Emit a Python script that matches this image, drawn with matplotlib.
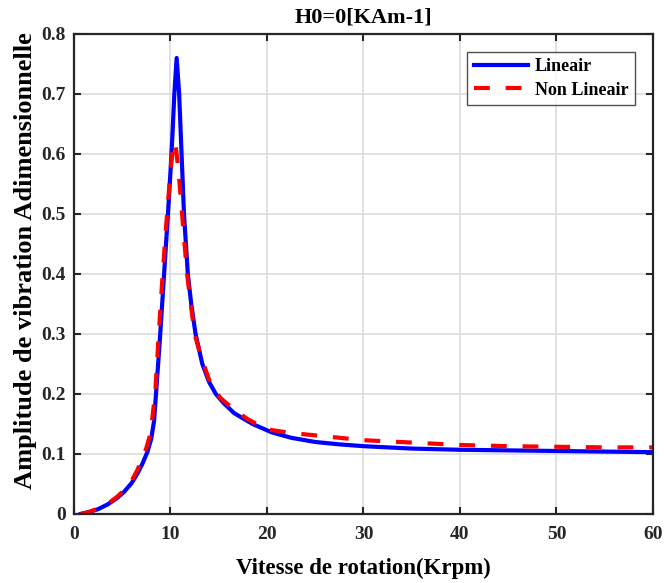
import matplotlib
matplotlib.use("Agg")
import matplotlib.pyplot as plt

# Rotation speed (Krpm) and dimensionless vibration amplitude
speed_lin = [0.7, 1.5, 2.5, 3.5, 4.5, 5.2, 6.0, 6.6, 7.1, 7.6, 8.0, 8.3, 8.5,
             8.9, 9.3, 9.7, 10.0, 10.2, 10.4, 10.64, 10.9, 11.15, 11.4, 11.8,
             12.15, 12.6, 13.3, 14.0, 14.7, 15.5, 16.6, 18.5, 20.5, 22.5, 25.0,
             27.5, 30.0, 35.0, 40.0, 45.0, 50.0, 55.0, 60.0]
amp_lin = [0.0, 0.003, 0.008, 0.016, 0.027, 0.037, 0.052, 0.068, 0.084, 0.103,
           0.125, 0.155, 0.200, 0.290, 0.390, 0.490, 0.570, 0.630, 0.700, 0.760,
           0.700, 0.600, 0.500, 0.400, 0.350, 0.300, 0.250, 0.220, 0.200, 0.185,
           0.168, 0.150, 0.136, 0.127, 0.120, 0.116, 0.113, 0.109, 0.107, 0.106,
           0.105, 0.104, 0.103]

speed_nl = [0.7, 1.5, 2.5, 3.5, 4.5, 5.2, 6.0, 6.56, 7.0, 7.5, 7.94, 8.3,
            8.45, 8.75, 9.15, 9.55, 9.85, 10.05, 10.3, 10.45, 10.6, 10.85,
            11.2, 11.72, 12.1, 12.5, 13.2, 14.2, 15.2, 16.5, 18.0, 20.0, 22.5,
            25.0, 27.5, 30.0, 35.0, 40.0, 45.0, 50.0, 55.0, 60.0]
amp_nl = [0.0, 0.003, 0.009, 0.017, 0.029, 0.040, 0.056, 0.073, 0.089, 0.110,
          0.135, 0.185, 0.210, 0.290, 0.390, 0.480, 0.540, 0.580, 0.615, 0.620,
          0.605, 0.570, 0.500, 0.400, 0.350, 0.300, 0.260, 0.215, 0.193, 0.175,
          0.158, 0.141, 0.135, 0.131, 0.127, 0.123, 0.119, 0.115, 0.113, 0.112,
          0.111, 0.111]

xticks = [0, 10, 20, 30, 40, 50, 60]
yticks = [0, 0.1, 0.2, 0.3, 0.4, 0.5, 0.6, 0.7, 0.8]
ytick_labels = ["0", "0.1", "0.2", "0.3", "0.4", "0.5", "0.6", "0.7", "0.8"]

plt.rcParams["font.family"] = ["Liberation Serif", "DejaVu Serif"]
plt.rcParams["font.weight"] = "bold"

fig = plt.figure(figsize=(6.64, 5.83), dpi=100)
ax = fig.add_axes([0.1114, 0.1184, 0.8720, 0.8233])

ax.plot(speed_lin, amp_lin, color="#0000ff", lw=3.0, label="Lineair",
        solid_joinstyle="round")
ax.plot(speed_nl, amp_nl, color="#ff0000", lw=3.0, linestyle=(0, (3.8, 3.8)),
        label="Non Lineair", dash_capstyle="butt", dash_joinstyle="round")

ax.set_xlim(0, 60)
ax.set_ylim(0, 0.8)
ax.set_xticks(xticks)
ax.set_yticks(yticks)
ax.set_yticklabels(ytick_labels)
ax.grid(True, color="#dcdcdc", lw=1.2)
ax.set_axisbelow(True)

ax.tick_params(direction="in", length=5, width=1.5, top=True, right=True,
               labelsize=14, colors="#262626")
ax.tick_params(axis="x", pad=9)
ax.tick_params(axis="y", pad=6)
for lbl in ax.get_xticklabels() + ax.get_yticklabels():
    lbl.set_fontweight("bold")
for sp in ax.spines.values():
    sp.set_linewidth(1.6)
    sp.set_color("#262626")

ax.set_xlabel("Vitesse de rotation(Krpm)", fontsize=16.5, fontweight="bold",
              labelpad=10)
ax.set_ylabel("Amplitude de vibration Adimensionnelle", fontsize=19,
              fontweight="bold")
ax.yaxis.set_label_coords(-0.063, 0.527)
ax.set_title("H0=0[KAm-1]", fontsize=16, fontweight="bold", pad=8)

leg = ax.legend(loc="upper right", bbox_to_anchor=(0.969, 0.9625), fontsize=13,
                frameon=True, fancybox=False, edgecolor="#262626",
                handlelength=3.0, borderpad=0.35, labelspacing=0.35,
                handletextpad=0.4, borderaxespad=0.0)
leg.get_frame().set_linewidth(1.0)
for t in leg.get_texts():
    t.set_fontweight("bold")

fig.savefig("out.png", dpi=100)
